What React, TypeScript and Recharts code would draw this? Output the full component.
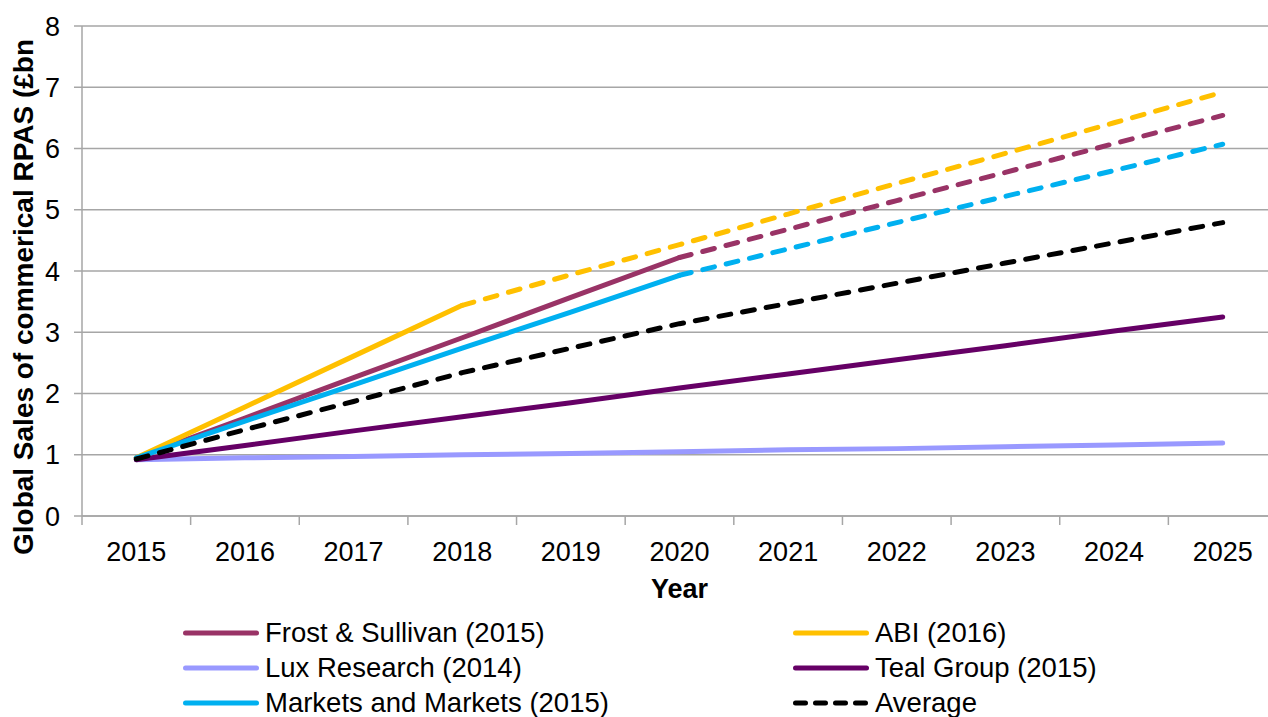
import React from 'react';
import { LineChart, Line, XAxis, YAxis, CartesianGrid, Legend } from 'recharts';

// Forecast years on the category axis
const years = ['2015', '2016', '2017', '2018', '2019', '2020', '2021', '2022', '2023', '2024', '2025'];

// Global sales of commercial RPAS, £bn, per forecast source
const frostSullivan = [0.95, 1.6, 2.26, 2.91, 3.57, 4.22, 4.68, 5.15, 5.61, 6.08, 6.54];
const abi = [0.95, 1.78, 2.61, 3.44, 3.94, 4.43, 4.93, 5.43, 5.92, 6.42, 6.92];
const luxResearch = [0.92, 0.95, 0.97, 1.0, 1.02, 1.05, 1.08, 1.1, 1.13, 1.16, 1.19];
const tealGroup = [0.92, 1.15, 1.39, 1.62, 1.85, 2.09, 2.32, 2.55, 2.78, 3.02, 3.25];
const marketsAndMarkets = [0.95, 1.55, 2.14, 2.74, 3.33, 3.93, 4.36, 4.79, 5.22, 5.64, 6.07];
const average = [0.93, 1.41, 1.87, 2.34, 2.74, 3.14, 3.47, 3.8, 4.13, 4.46, 4.79];

// Last year each source published directly; later years are extrapolated (dashed)
const frostLastReported = 5;
const abiLastReported = 3;
const marketsLastReported = 5;

const yTicks = [0, 1, 2, 3, 4, 5, 6, 7, 8];

const legendItems = [
  { label: 'Frost & Sullivan (2015)', color: '#993366', dashed: false },
  { label: 'ABI (2016)', color: '#FFC000', dashed: false },
  { label: 'Lux Research (2014)', color: '#9999FF', dashed: false },
  { label: 'Teal Group (2015)', color: '#660066', dashed: false },
  { label: 'Markets and Markets (2015)', color: '#00B0F0', dashed: false },
  { label: 'Average', color: '#000000', dashed: true },
];

const data = years.map((year, i) => ({
  x: i,
  year,
  frost: i <= frostLastReported ? frostSullivan[i] : null,
  frostProj: i >= frostLastReported ? frostSullivan[i] : null,
  abi: i <= abiLastReported ? abi[i] : null,
  abiProj: i >= abiLastReported ? abi[i] : null,
  lux: luxResearch[i],
  teal: tealGroup[i],
  mm: i <= marketsLastReported ? marketsAndMarkets[i] : null,
  mmProj: i >= marketsLastReported ? marketsAndMarkets[i] : null,
  avg: average[i],
}));

// Layout
const CHART_W = 1290;
const CHART_H = 717;
const MARGIN = { top: 26, right: 13, bottom: 0, left: 0 };
const Y_AXIS_W = 82;
const X_AXIS_H = 201;
const PLOT_W = CHART_W - MARGIN.left - MARGIN.right - Y_AXIS_W;
const BAND = PLOT_W / years.length;
const boundaryTicks = Array.from({ length: years.length + 1 }, (_, i) => i - 0.5);

const FONT = '"Liberation Sans", Arial, sans-serif';
const GRID = '#a6a6a6';
const LINE_W = 5;
const DASH = '12 12';

const YearTick = (props: any) => {
  const { x, y, payload } = props;
  const idx = payload.value + 0.5;
  if (idx < 0 || idx >= years.length) return <g />;
  return (
    <text x={x + BAND / 2} y={y} dy="0.71em" textAnchor="middle" fill="#000" fontSize={27} fontFamily={FONT}>
      {years[idx]}
    </text>
  );
};

const XTitle = (props: any) => {
  const vb = props.viewBox || {};
  return (
    <text x={vb.x + vb.width / 2} y={vb.y + 82} textAnchor="middle" fill="#000" fontSize={27} fontWeight="bold" fontFamily={FONT}>
      Year
    </text>
  );
};

const YTitle = () => {
  const cx = 33;
  const cy = 297;
  return (
    <text x={cx} y={cy} transform={`rotate(-90, ${cx}, ${cy})`} textAnchor="middle" fill="#000" fontSize={28} fontWeight="bold" fontFamily={FONT}>
      Global Sales of commerical RPAS (£bn
    </text>
  );
};

const LEGEND_COLS = [183, 793];
const LEGEND_ROWS = [633, 668, 703];

const LegendContent = () => (
  <div style={{ position: 'relative', width: CHART_W, height: CHART_H }}>
    {legendItems.map((item, i) => {
      const left = LEGEND_COLS[i % 2];
      const top = LEGEND_ROWS[Math.floor(i / 2)] - 18;
      return (
        <div key={item.label} style={{ position: 'absolute', left, top, height: 36, display: 'flex', alignItems: 'center', whiteSpace: 'nowrap' }}>
          <svg width={76} height={36} style={{ display: 'block' }}>
            <line
              x1={2.5}
              x2={73.5}
              y1={18}
              y2={18}
              stroke={item.color}
              strokeWidth={5}
              strokeLinecap="round"
              strokeDasharray={item.dashed ? '10 10' : undefined}
            />
          </svg>
          <span style={{ marginLeft: 6, fontSize: 27.5, lineHeight: 1, fontFamily: FONT, color: '#000' }}>{item.label}</span>
        </div>
      );
    })}
  </div>
);

export default function App() {
  return (
    <div style={{ position: 'fixed', left: 0, top: 0, width: 1268, height: 717, overflow: 'hidden', background: '#fff' }}>
      <LineChart width={CHART_W} height={CHART_H} data={data} margin={MARGIN}>
        <CartesianGrid vertical={false} stroke={GRID} strokeWidth={1.5} />
        <XAxis
          dataKey="x"
          type="number"
          domain={[-0.5, years.length - 0.5]}
          ticks={boundaryTicks}
          interval={0}
          allowDataOverflow
          height={X_AXIS_H}
          tickSize={9}
          tickMargin={17}
          tick={<YearTick />}
          stroke={GRID}
          strokeWidth={1.5}
          label={<XTitle />}
        />
        <YAxis
          type="number"
          domain={[0, 8]}
          ticks={yTicks}
          interval={0}
          width={Y_AXIS_W}
          tickSize={8}
          tickMargin={14}
          tick={{ fill: '#000', fontSize: 27, fontFamily: FONT }}
          stroke={GRID}
          strokeWidth={1.5}
          label={<YTitle />}
        />
        <Legend
          layout="horizontal"
          verticalAlign="middle"
          align="center"
          content={<LegendContent />}
          wrapperStyle={{ left: 0, top: 0, width: CHART_W, height: CHART_H, pointerEvents: 'none' }}
        />
        <Line dataKey="frost" stroke="#993366" strokeWidth={LINE_W} dot={false} strokeLinejoin="round" strokeLinecap="round" isAnimationActive={false} />
        <Line dataKey="frostProj" stroke="#993366" strokeWidth={LINE_W} dot={false} strokeDasharray={DASH} strokeLinecap="round" isAnimationActive={false} />
        <Line dataKey="abi" stroke="#FFC000" strokeWidth={LINE_W} dot={false} strokeLinejoin="round" strokeLinecap="round" isAnimationActive={false} />
        <Line dataKey="abiProj" stroke="#FFC000" strokeWidth={LINE_W} dot={false} strokeDasharray={DASH} strokeLinecap="round" isAnimationActive={false} />
        <Line dataKey="lux" stroke="#9999FF" strokeWidth={LINE_W} dot={false} strokeLinejoin="round" strokeLinecap="round" isAnimationActive={false} />
        <Line dataKey="teal" stroke="#660066" strokeWidth={LINE_W} dot={false} strokeLinejoin="round" strokeLinecap="round" isAnimationActive={false} />
        <Line dataKey="mm" stroke="#00B0F0" strokeWidth={LINE_W} dot={false} strokeLinejoin="round" strokeLinecap="round" isAnimationActive={false} />
        <Line dataKey="mmProj" stroke="#00B0F0" strokeWidth={LINE_W} dot={false} strokeDasharray={DASH} strokeLinecap="round" isAnimationActive={false} />
        <Line dataKey="avg" stroke="#000000" strokeWidth={LINE_W} dot={false} strokeDasharray={DASH} strokeLinecap="round" isAnimationActive={false} />
      </LineChart>
    </div>
  );
}
